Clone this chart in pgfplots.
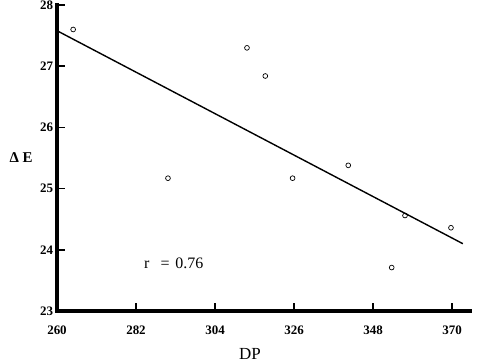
\documentclass[border=0pt]{standalone}
\usepackage{fontspec}
\setmainfont{Liberation Serif}
\usepackage{pgfplots}
\pgfplotsset{compat=1.18}
\begin{document}
\begin{tikzpicture}
\begin{axis}[
  scale only axis, width=413bp, height=306bp,
  xmin=260, xmax=375, ymin=23, ymax=28,
  axis x line*=bottom, axis y line*=left,
  separate axis lines,
  every outer x axis line/.append style={line width=3.2bp, line cap=rect, -},
  every outer y axis line/.append style={line width=3.2bp, line cap=rect, -},
  x axis line style={line width=3.2bp, line cap=rect, -},
  y axis line style={line width=3.2bp, line cap=rect, -},
  xtick={260,282,304,326,348,370}, ytick={23,24,25,26,27,28},
  tick align=inside, major tick length=8bp,
  tick style={line width=1.5bp, black},
  minor tick num=0,
  /pgf/number format/assume math mode=true,
  /pgf/number format/1000 sep={},
  ticklabel style={font=\fontsize{13}{15}\selectfont\bfseries},
  xticklabel style={yshift=-11bp},
  yticklabel style={xshift=-0.5bp},
  xlabel={DP}, ylabel={Δ E},
  xlabel style={at={(axis description cs:0.467,-0.122)}, anchor=north, inner sep=0pt, font=\fontsize{17}{19}\selectfont},
  ylabel style={at={(axis description cs:-0.087,0.503)}, anchor=center, rotate=-90, font=\fontsize{15}{17}\selectfont\bfseries},
  clip=false,
]
\addplot[black, line width=1.4bp, no marks] coordinates {(260,27.58) (373,24.10)};
\addplot[black, only marks, mark=o, mark size=2.4bp, mark options={line width=0.7bp}] coordinates {
(264.5,27.60) (290.9,25.17) (312.9,27.30) (318.0,26.84) (325.6,25.17)
(341.1,25.38) (353.2,23.71) (356.9,24.56) (369.7,24.36)
};
\node[anchor=west, font=\fontsize{16}{18}\selectfont] at (axis cs:283.3,23.78) {r\hspace{11bp}=\hspace{6bp}0.76};
\end{axis}
\pgfresetboundingbox
\path ([shift={(-57bp,-51bp)}]current axis.south west) rectangle ([shift={(12bp,5bp)}]current axis.north east);
\end{tikzpicture}
\end{document}
